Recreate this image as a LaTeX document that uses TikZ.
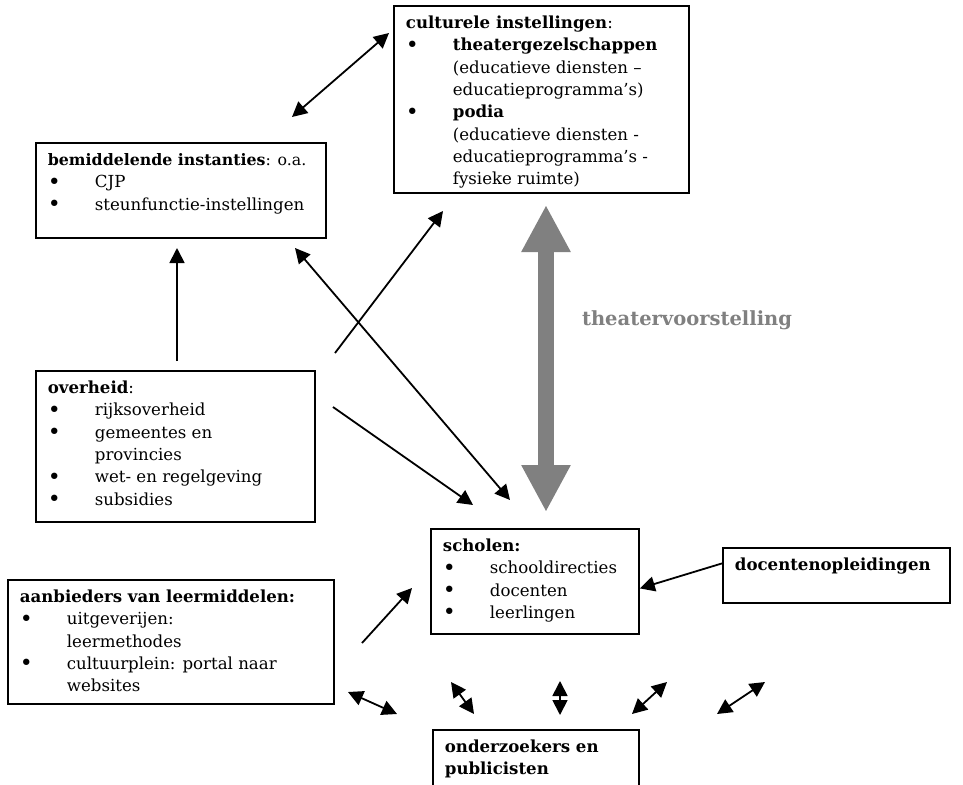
\documentclass[tikz,border=0pt]{standalone}
\usepackage{fontspec}
\setmainfont{DejaVu Serif}
\usepackage{tikz}
\usetikzlibrary{positioning,calc,arrows.meta}

\definecolor{tvgrey}{HTML}{808080}
\newcommand{\bul}{\makebox[47pt][l]{\raisebox{-1.5pt}{\fontsize{22}{22}\selectfont\textbullet}}}
\newcommand{\ind}{\hspace*{47pt}}

\tikzset{
  box/.style={draw, line width=1.8pt, anchor=north west, inner xsep=12pt, inner ysep=7pt},
  arr/.style={line width=1.8pt, -{Triangle[length=15pt,width=15pt]}},
  darr/.style={line width=1.8pt, {Triangle[length=15pt,width=15pt]}-{Triangle[length=15pt,width=15pt]}}
}

\begin{document}
\begin{tikzpicture}[x=1pt, y=-1pt, font=\fontsize{16.6}{22.3}\selectfont]
    \useasboundingbox (0,0) rectangle (963,784);
    \clip (0,0) rectangle (963,784);
    % boxes
    \node[box] (cult) at (393,5) {\parbox[t][173pt][t]{271pt}{\raggedright\strut
        \textbf{culturele instellingen}:\\
        \bul\textbf{theatergezelschappen}\\
        \ind(educatieve diensten –\\
        \ind educatieprogramma’s)\\
        \bul\textbf{podia}\\
        \ind(educatieve diensten -\\
        \ind educatieprogramma’s -\\
        \ind fysieke ruimte)}};
    \node[box] (bemid) at (35,142) {\parbox[t][81pt][t]{266pt}{\raggedright\strut
        \mbox{\fontsize{15.8}{22.3}\selectfont\textbf{bemiddelende instanties}: o.a.}\\
        \bul CJP\\
        \bul steunfunctie-instellingen}};
    \node[box] (overheid) at (35,370) {\parbox[t][137pt][t]{255pt}{\raggedright\strut
        \textbf{overheid}:\\
        \bul rijksoverheid\\
        \bul gemeentes en\\
        \ind provincies\\
        \bul wet- en regelgeving\\
        \bul subsidies}};
    \node[box] (scholen) at (430,528) {\parbox[t][91pt][t]{184pt}{\raggedright\strut
        \textbf{scholen:}\\
        \bul schooldirecties\\
        \bul docenten\\
        \bul leerlingen}};
    \node[box] (docopl) at (722,547) {\parbox[t][41pt][t]{203pt}{\raggedright\strut
        \textbf{docentenopleidingen}}};
    \node[box] (aanb) at (7,579) {\parbox[t][110pt][t]{302pt}{\raggedright\strut
        \textbf{aanbieders van leermiddelen:}\\
        \bul uitgeverijen:\\
        \ind leermethodes\\
        \bul cultuurplein: portal naar\\
        \ind websites}};
    \node[box] (onderz) at (432,729) {\parbox[t][86pt][t]{182pt}{\raggedright\strut
        \textbf{onderzoekers en}\\
        \textbf{publicisten}}};
    \node[text=tvgrey, font=\fontsize{19.5}{22}\selectfont\bfseries] (tv) at (687,320) {theatervoorstelling};

    % arrow ends
    \coordinate (c1) at (389,33);
    \coordinate (b1) at (292,117);
    \coordinate (o1) at (177,361);
    \coordinate (b2) at (177,248);
    \coordinate (o2) at (335,353);
    \coordinate (c2) at (443,211);
    \coordinate (b3) at (295,248);
    \coordinate (s1) at (510,500);
    \coordinate (o3) at (333,407);
    \coordinate (s2) at (473,505);
    \coordinate (a1) at (362,643);
    \coordinate (s3) at (412,588);
    \coordinate (tvtop) at (546,205);
    \coordinate (tvbot) at (546,512);

    \draw[darr] (b1) -- (c1);
    \draw[arr] (o1) -- (b2);
    \draw[arr] (o2) -- (c2);
    \draw[darr] (b3) -- (s1);
    \draw[arr] (o3) -- (s2);
    \draw[arr] (a1) -- (s3);
    \draw[arr] ([yshift=12pt]docopl.west) -- ([yshift=-7pt]scholen.east);
    \draw[tvgrey, line width=16pt, {Triangle[length=47pt,width=46pt]}-{Triangle[length=47pt,width=46pt]}] (tvtop) -- (tvbot);

    % to onderzoekers
    \coordinate (r1a) at (348,692); \coordinate (r1b) at (397,714);
    \coordinate (r2a) at (451,682); \coordinate (r2b) at (474,714);
    \coordinate (r3a) at (560,681); \coordinate (r3b) at (560,715);
    \coordinate (r4a) at (667,682); \coordinate (r4b) at (632,714);
    \coordinate (r5a) at (765,682); \coordinate (r5b) at (717,714);
    \draw[darr] (r1a) -- (r1b);
    \draw[darr] (r2a) -- (r2b);
    \draw[darr] (r3a) -- (r3b);
    \draw[darr] (r4a) -- (r4b);
    \draw[darr] (r5a) -- (r5b);
\end{tikzpicture}
\end{document}
